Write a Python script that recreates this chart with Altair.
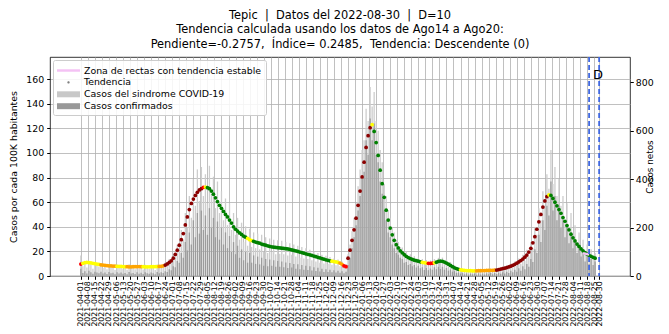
import altair as alt
import pandas as pd

INICIO = "2021-04-01"

# Tendencia (casos por cada 100K habitantes), un valor cada 2 dias desde INICIO
tendencia = [
    9.7, 10.3, 10.8, 11.0, 10.9, 10.6, 10.3, 10.0, 9.7, 9.4,
    9.1, 8.9, 8.7, 8.5, 8.3, 8.2, 8.1, 8.0, 7.9, 7.8,
    7.8, 7.7, 7.6, 7.6, 7.5, 7.5, 7.6, 7.6, 7.7, 7.7,
    7.6, 7.6, 7.5, 7.5, 7.5, 7.6, 7.6, 7.7, 7.7, 7.8,
    7.9, 8.3, 8.9, 9.8, 11.0, 12.3, 14.5, 17.5, 21.0, 25.0,
    29.5, 34.5, 41.5, 48.0, 54.0, 59.0, 62.5, 65.5, 68.0, 70.0,
    71.0, 72.0, 72.3, 71.8, 71.0, 69.0, 66.5, 63.5, 60.5, 57.5,
    55.0, 52.5, 50.0, 48.0, 45.5, 43.0, 40.0, 38.0, 36.5, 35.0,
    33.8, 32.5, 31.5, 30.5, 29.5, 28.8, 28.2, 27.6, 27.1, 26.7,
    26.0, 25.5, 25.0, 24.5, 24.0, 23.7, 23.4, 23.2, 23.0, 22.8,
    22.6, 22.4, 22.2, 22.0, 21.6, 21.2, 20.8, 20.4, 20.0, 19.5,
    19.0, 18.5, 18.0, 17.6, 17.2, 16.7, 16.2, 15.7, 15.2, 14.7,
    14.2, 13.7, 13.2, 12.7, 12.3, 12.0, 11.7, 11.4, 11.1, 10.5,
    9.5, 8.2, 7.6, 14.5, 21.0, 29.0, 37.5, 47.0, 57.5, 69.0,
    80.5, 92.5, 104.5, 114.0, 120.5, 123.0, 117.5, 108.5, 98.0, 86.0,
    75.0, 64.0, 53.5, 45.5, 39.0, 33.5, 29.0, 25.5, 22.8, 20.5,
    18.8, 17.3, 16.0, 15.0, 14.2, 13.5, 12.9, 12.4, 12.0, 11.5,
    11.1, 10.8, 10.5, 10.3, 10.2, 10.4, 10.7, 11.2, 11.8, 12.1,
    11.9, 11.3, 10.5, 9.6, 8.6, 7.6, 6.7, 6.0, 5.4, 5.0,
    4.7, 4.5, 4.4, 4.3, 4.3, 4.2, 4.2, 4.2, 4.3, 4.3,
    4.4, 4.4, 4.5, 4.5, 4.6, 4.6, 4.7, 4.8, 5.2, 5.6,
    6.0, 6.4, 6.9, 7.4, 8.0, 8.7, 9.5, 10.4, 11.4, 12.5,
    13.8, 15.3, 17.0, 19.5, 22.5, 27.0, 32.0, 38.0, 44.0, 50.0,
    56.0, 61.0, 64.5, 66.0, 65.5, 63.0, 60.0, 57.0, 54.0, 51.0,
    47.5, 44.5, 41.0, 37.5, 34.0, 31.0, 28.5, 26.0, 24.0, 22.0,
    20.5, 19.0, 17.8, 16.8, 16.0, 15.2, 14.5,
]

# Color de cada punto de tendencia (tramos: codigo, numero de puntos)
tramos_color = [
    ("R", 1), ("Y", 9), ("O", 8), ("Y", 5), ("O", 8), ("Y", 8), ("O", 3),
    ("D", 19), ("R", 1), ("Y", 1), ("G", 20), ("Y", 3), ("G", 39), ("Y", 4),
    ("O", 2), ("R", 2), ("D", 12), ("Y", 1), ("G", 24), ("Y", 3), ("R", 3),
    ("Y", 1), ("G", 12), ("Y", 8), ("O", 10), ("D", 26), ("Y", 1), ("G", 23),
]
colores = {"D": "#8b0000", "G": "#008000", "Y": "#ffff00", "O": "#ffa500", "R": "#ff0000"}

# Casos netos (eje derecho), mismas fechas
sindrome = [
    85, 40, 62, 35, 58, 47, 30, 55, 44, 38,
    52, 33, 45, 28, 50, 36, 41, 25, 47, 34,
    44, 30, 37, 26, 48, 33, 40, 28, 45, 31,
    42, 27, 46, 34, 29, 44, 36, 25, 47, 35,
    46, 38, 55, 44, 70, 58, 92, 80, 130, 115,
    190, 150, 260, 200, 330, 240, 400, 290, 440, 310,
    450, 330, 420, 300, 455, 340, 410, 280, 390, 260,
    350, 230, 320, 210, 300, 190, 260, 170, 240, 150,
    220, 140, 205, 125, 195, 120, 180, 115, 175, 110,
    170, 100, 160, 95, 155, 100, 150, 90, 148, 92,
    145, 90, 140, 85, 135, 88, 130, 80, 125, 75,
    120, 72, 115, 70, 108, 65, 100, 60, 95, 55,
    88, 52, 84, 50, 78, 46, 72, 44, 68, 40,
    60, 35, 50, 90, 130, 185, 240, 300, 370, 440,
    520, 560, 690, 640, 780, 700, 760, 640, 600, 520,
    470, 380, 330, 270, 240, 200, 180, 150, 140, 120,
    118, 95, 100, 80, 90, 72, 82, 66, 76, 60,
    70, 50, 66, 48, 64, 52, 70, 56, 75, 58,
    76, 55, 68, 48, 58, 40, 45, 30, 35, 24,
    30, 18, 28, 16, 27, 19, 26, 15, 28, 17,
    27, 16, 29, 18, 30, 19, 31, 20, 33, 22,
    38, 25, 44, 29, 52, 35, 60, 42, 72, 50,
    88, 62, 108, 80, 140, 115, 200, 170, 280, 230,
    350, 290, 420, 360, 520, 380, 450, 330, 400, 290,
    330, 230, 300, 200, 260, 170, 210, 140, 180, 120,
    150, 95, 130, 80, 110, 75, 95,
]
confirmados = [
    30, 12, 20, 10, 22, 15, 9, 18, 14, 11,
    18, 10, 14, 8, 17, 11, 13, 7, 15, 10,
    14, 9, 12, 7, 16, 10, 12, 8, 15, 9,
    13, 8, 15, 11, 9, 14, 11, 7, 16, 11,
    15, 12, 20, 16, 28, 24, 40, 36, 62, 55,
    95, 75, 140, 105, 180, 130, 230, 160, 260, 175,
    270, 190, 250, 170, 280, 200, 240, 160, 225, 150,
    200, 130, 180, 115, 165, 100, 140, 90, 125, 75,
    110, 65, 100, 55, 95, 55, 85, 50, 80, 48,
    75, 42, 70, 40, 68, 42, 65, 38, 62, 38,
    60, 36, 56, 33, 54, 35, 50, 30, 48, 28,
    45, 26, 42, 25, 40, 23, 36, 21, 34, 19,
    30, 17, 28, 16, 26, 15, 24, 14, 22, 13,
    20, 11, 18, 45, 75, 115, 160, 210, 270, 330,
    400, 430, 560, 500, 650, 560, 630, 500, 470, 390,
    340, 270, 230, 180, 160, 130, 115, 95, 88, 75,
    70, 55, 58, 45, 50, 40, 45, 35, 42, 32,
    36, 25, 33, 24, 31, 26, 36, 28, 38, 29,
    38, 26, 33, 22, 27, 18, 20, 13, 15, 10,
    12, 7, 11, 6, 10, 7, 10, 5, 11, 6,
    10, 6, 11, 7, 12, 7, 12, 8, 13, 9,
    15, 10, 18, 12, 22, 15, 26, 18, 32, 22,
    40, 28, 50, 38, 70, 58, 110, 95, 170, 140,
    230, 190, 290, 250, 390, 270, 330, 230, 290, 200,
    230, 160, 200, 135, 180, 115, 145, 95, 120, 80,
    100, 60, 85, 50, 70, 45, 60,
]

fechas_D = ["2022-08-20", "2022-08-30"]
zona_fechas = ["2022-08-14", "2022-08-20"]
zona_valores = [18.6, 17.4]
etiquetas_leyenda = [
    "Zona de rectas con tendencia estable",
    "Tendencia",
    "Casos del sindrome COVID-19",
    "Casos confirmados",
]
colores_leyenda = ["#f4c2f4", "#808080", "#c8c8c8", "#999999"]
formas_leyenda = [
    "M-1.77,-0.19H1.77V0.19H-1.77Z",
    "M-0.18,0A0.18,0.18,0,1,0,0.18,0A0.18,0.18,0,1,0,-0.18,0Z",
    "M-1.77,-0.46H1.77V0.46H-1.77Z",
    "M-1.77,-0.46H1.77V0.46H-1.77Z",
]
NB = "\u00a0"
titulo = [
    f"Tepic{NB} |{NB} Datos del 2022-08-30{NB} |{NB} D=10",
    "Tendencia calculada usando los datos de Ago14 a Ago20:",
    f"Pendiente=-0.2757,{NB} Índice= 0.2485,{NB} Tendencia: Descendente (0)",
]

FONT = "DejaVu Sans"

fechas = pd.date_range(INICIO, periods=len(tendencia), freq="2D").strftime("%Y-%m-%d")
codigos = "".join(c * n for c, n in tramos_color)
df = pd.DataFrame({
    "fecha": fechas,
    "tendencia": tendencia,
    "color": [colores[c] for c in codigos],
    "sindrome": sindrome,
    "confirmados": confirmados,
})


def ms(ts):
    t = pd.Timestamp(ts)
    if t.tzinfo is None:
        t = t.tz_localize("UTC")
    return int(t.timestamp() * 1000)


t0 = pd.Timestamp(INICIO)
dominio_x = [ms(t0 - pd.Timedelta(days=25.75)), ms(t0 + pd.Timedelta(days=541.75))]
ticks = list(pd.date_range(INICIO, "2022-08-25", freq="7D").strftime("%Y-%m-%d")) + ["2022-08-30"]
ticks_ms = [ms(t) for t in ticks]

xenc = alt.X(
    "fecha:T",
    scale=alt.Scale(type="utc", domain=dominio_x),
    axis=alt.Axis(
        values=ticks_ms, labelExpr="utcFormat(datum.value, '%Y-%m-%d')", labelAngle=270,
        title=None, grid=True, gridColor="#b0b0b0", gridWidth=0.8,
        tickSize=3.3, tickColor="black", labelPadding=1.5, labelFontSize=7.8,
        labelFont=FONT, labelColor="black", labelOverlap=False, labelFlush=False,
        domain=False,
    ),
)

escala_izq = alt.Scale(domain=[0, 178], nice=False)
escala_der = alt.Scale(domain=[0, 904], nice=False)
eje_izq = alt.Axis(
    values=list(range(0, 161, 20)), title="Casos por cada 100K habitantes", orient="left",
    grid=True, gridColor="#b0b0b0", gridWidth=0.8, tickSize=3.3, tickColor="black",
    labelFontSize=9.4, labelFont=FONT, labelColor="black", labelPadding=3,
    titleFont=FONT, titleFontSize=9.4, titleFontWeight="normal", titleColor="black",
    titlePadding=7, domain=False,
)
eje_der = alt.Axis(
    values=[0, 200, 400, 600, 800], title="Casos netos", orient="right",
    grid=False, tickSize=3.3, tickColor="black",
    labelFontSize=9.4, labelFont=FONT, labelColor="black", labelPadding=2,
    titleFont=FONT, titleFontSize=8.8, titleFontWeight="normal", titleColor="black",
    titlePadding=1, titleAngle=270, domain=False,
)

barras_sind = alt.Chart(df).mark_bar(width=1.3, color="#cdcdcd").encode(
    x=xenc, y=alt.Y("sindrome:Q", scale=escala_der, axis=eje_der)
)
barras_conf = alt.Chart(df).mark_bar(width=1.3, color="#9c9c9c").encode(
    x=xenc, y=alt.Y("confirmados:Q", scale=escala_der, axis=eje_der)
)
barras = alt.layer(barras_sind, barras_conf)

puntos = alt.Chart(df).mark_circle(size=14, opacity=1).encode(
    x=xenc,
    y=alt.Y("tendencia:Q", scale=escala_izq, axis=eje_izq),
    fill=alt.Fill("color:N", scale=None),
)

zona = alt.Chart(pd.DataFrame({"fecha": zona_fechas, "v": zona_valores})).mark_line(
    color="#f4c2f4", strokeWidth=2.5
).encode(x=xenc, y=alt.Y("v:Q", scale=escala_izq, axis=eje_izq))

lineas_D = alt.Chart(pd.DataFrame({"fecha": fechas_D})).mark_rule(
    color="#4169e1", strokeDash=[5, 3], strokeWidth=1.8
).encode(x=xenc)

texto_D = alt.Chart(pd.DataFrame({"fecha": ["2022-08-25"], "t": ["D"]})).mark_text(
    fontSize=13, font=FONT, color="black", align="center", baseline="middle", dx=4
).encode(x=xenc, y=alt.value(18), text="t:N")

leyenda_cfg = dict(
    title=None, orient="top-left", offset=3, padding=4,
    fillColor="rgba(255,255,255,0.85)", strokeColor="#cccccc", cornerRadius=2,
    labelFont=FONT, labelFontSize=9.4, labelColor="black", labelLimit=400,
    symbolSize=169, symbolStrokeWidth=0, symbolOpacity=1,
    rowPadding=0.9, labelOffset=9, symbolOffset=5,
)
leyenda = alt.Chart(pd.DataFrame({"lab": etiquetas_leyenda})).mark_point(
    filled=True, opacity=0
).encode(
    color=alt.Color("lab:N", scale=alt.Scale(domain=etiquetas_leyenda, range=colores_leyenda),
                    legend=alt.Legend(**leyenda_cfg)),
    shape=alt.Shape("lab:N", scale=alt.Scale(domain=etiquetas_leyenda, range=formas_leyenda),
                    legend=alt.Legend(**leyenda_cfg)),
)

izq = alt.layer(puntos, zona, lineas_D, texto_D, leyenda)

chart = alt.layer(barras, izq).resolve_scale(y="independent").properties(
    width=580,
    height=219,
    title=alt.TitleParams(
        text=titulo, fontSize=11.4, font=FONT, fontWeight="normal", anchor="middle",
        lineHeight=14.5, offset=6, color="black",
    ),
    autosize=alt.AutoSizeParams(type="none"),
    padding={"left": 42, "top": 49, "right": 31, "bottom": 50},
).configure_view(stroke="black", strokeWidth=0.8)

chart.save("out.html", embed_options={"renderer": "svg", "actions": False})
